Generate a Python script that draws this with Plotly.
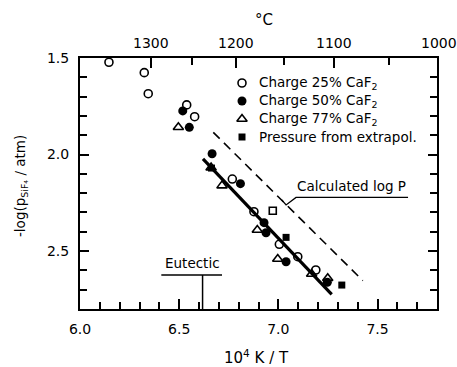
import plotly.graph_objects as go

# ---------------- data ----------------
c25_x = [6.146, 6.324, 6.344, 6.538, 6.578, 6.768, 6.877, 7.005, 7.098, 7.189]
c25_y = [1.522, 1.576, 1.685, 1.743, 1.804, 2.127, 2.296, 2.465, 2.529, 2.598]

c50_x = [6.518, 6.551, 6.666, 6.809, 6.928, 6.938, 7.039, 7.247]
c50_y = [1.774, 1.859, 1.996, 2.151, 2.353, 2.405, 2.555, 2.662]

c77_x = [6.496, 6.661, 6.716, 6.894, 6.997, 7.168, 7.249]
c77_y = [1.859, 2.068, 2.161, 2.391, 2.541, 2.619, 2.641]

extra_x = [6.663, 7.039, 7.320]
extra_y = [2.070, 2.429, 2.676]

open_sq_x = [6.972]
open_sq_y = [2.291]

fit_x = [6.620, 7.269]
fit_y = [2.022, 2.724]

calc_x = [6.672, 7.426]
calc_y = [1.885, 2.653]

eutectic_x = 6.618
celsius_ticks = [1050, 1100, 1150, 1200, 1250, 1300]
celsius_labels = [1000, 1100, 1200, 1300]

series_names = ["Charge 25% CaF<sub>2</sub>", "Charge 50% CaF<sub>2</sub>",
                "Charge 77% CaF<sub>2</sub>", "Pressure from extrapol."]

x_range = [6.0, 7.8]
y_range = [2.8, 1.5]

FONT = "DejaVu Sans"
W, H = 457, 367
L, R, T, B = 80, 20, 58, 58
PW, PH = W - L - R, H - T - B


def inv_t(c):
    return 1e4 / (c + 273.15)


def px_x(px):
    return (px - L) / PW


def px_y(py):
    return 1 - (py - T) / PH


fig = go.Figure()

mk_line = dict(color="black", width=1.6)
styles = [
    dict(symbol="circle-open", size=8, color="black", line=mk_line),
    dict(symbol="circle", size=9, color="black"),
    dict(symbol="triangle-up-open", size=9, color="black", line=mk_line),
    dict(symbol="square", size=7, color="black"),
]

fig.add_trace(go.Scatter(x=fit_x, y=fit_y, mode="lines",
                         line=dict(color="black", width=3.2), showlegend=False, hoverinfo="skip"))
fig.add_trace(go.Scatter(x=calc_x, y=calc_y, mode="lines",
                         line=dict(color="black", width=1.6, dash="9px,6px"), showlegend=False, hoverinfo="skip"))

for xs, ys, nm, st in zip([c25_x, c50_x, c77_x, extra_x], [c25_y, c50_y, c77_y, extra_y],
                          series_names, styles):
    fig.add_trace(go.Scatter(x=xs, y=ys, mode="markers", name=nm, marker=st, showlegend=False))
fig.add_trace(go.Scatter(x=open_sq_x, y=open_sq_y, mode="markers", showlegend=False,
                         marker=dict(symbol="square-open", size=7, color="black", line=mk_line)))

# top axis (°C) ticks
major_c = [c for c in celsius_ticks if c % 100 == 0]
minor_c = [c for c in celsius_ticks if c % 100 != 0]
fig.add_trace(go.Scatter(x=[inv_t(c) for c in celsius_ticks], y=[None] * len(celsius_ticks),
                         xaxis="x2", showlegend=False, hoverinfo="skip"))

# legend drawn on a pixel-unit overlay axis
leg_rows = [83, 101, 119, 137]
leg_mx, leg_tx = 242, 257
for i, st in enumerate(styles):
    fig.add_trace(go.Scatter(x=[leg_mx], y=[leg_rows[i]], mode="markers", marker=st,
                             xaxis="x3", yaxis="y3", showlegend=False, hoverinfo="skip"))

axis_common = dict(showgrid=False, zeroline=False, linecolor="black", linewidth=2,
                   tickcolor="black", tickwidth=1.5, ticks="inside",
                   tickfont=dict(family=FONT, size=14, color="black"))

fig.update_layout(
    width=W, height=H,
    margin=dict(l=L, r=R, t=T, b=B),
    paper_bgcolor="white", plot_bgcolor="white",
    font=dict(family=FONT, color="black"),
    showlegend=False,
    xaxis=dict(range=x_range, dtick=0.5, tick0=6.0, ticklen=10, mirror=True,
               minor=dict(dtick=0.1, ticks="inside", ticklen=7, tickcolor="black", tickwidth=1.5),
               ticklabelstandoff=6, tickformat=".1f", **axis_common),
    xaxis2=dict(range=x_range, overlaying="x", side="top", showticklabels=False,
                tickmode="array", tickvals=[inv_t(c) for c in major_c], ticklen=10,
                minor=dict(tickmode="array", tickvals=[inv_t(c) for c in minor_c], ticks="inside",
                           ticklen=7, tickcolor="black", tickwidth=1.5),
                **axis_common),
    yaxis=dict(range=y_range, dtick=0.5, tick0=1.5, ticklen=9, mirror="ticks",
               minor=dict(dtick=0.1, ticks="inside", ticklen=7, tickcolor="black", tickwidth=1.5),
               ticklabelstandoff=6, tickformat=".1f", **axis_common),
    xaxis3=dict(range=[L, W - R], overlaying="x", visible=False, fixedrange=True),
    yaxis3=dict(range=[H - B, T], overlaying="y", visible=False, fixedrange=True),
)

annotations = []
for c in celsius_labels:
    xp = (inv_t(c) - x_range[0]) / (x_range[1] - x_range[0])
    xp = min(xp, px_x(W - 18))
    annotations.append(dict(x=xp, y=px_y(43), xref="paper", yref="paper", text=str(c),
                            showarrow=False, xanchor="center", yanchor="middle",
                            font=dict(family=FONT, size=14)))
annotations.append(dict(x=px_x(264), y=px_y(20), xref="paper", yref="paper", xanchor="center",
                        yanchor="middle", text="°C", showarrow=False, font=dict(family=FONT, size=15)))
annotations.append(dict(x=px_x(256), y=px_y(357), xref="paper", yref="paper", xanchor="center",
                        yanchor="middle", text="10<sup>4</sup> K / T", showarrow=False,
                        font=dict(family=FONT, size=15)))
annotations.append(dict(x=px_x(21), y=px_y(186), xref="paper", yref="paper", xanchor="center",
                        yanchor="middle", text="-log(p<sub>SiF₄</sub> / atm)", textangle=-90,
                        showarrow=False, font=dict(family=FONT, size=13.5)))
annotations.append(dict(x=7.654, y=2.215, xref="x", yref="y", text="Calculated log P",
                        showarrow=False, xanchor="right", yanchor="bottom",
                        font=dict(family=FONT, size=13.5)))
annotations.append(dict(x=6.716, y=2.615, xref="x", yref="y", text="Eutectic",
                        showarrow=False, xanchor="right", yanchor="bottom",
                        font=dict(family=FONT, size=13.5)))
for i, nm in enumerate(series_names):
    annotations.append(dict(x=px_x(leg_tx), y=px_y(leg_rows[i]), xref="paper", yref="paper",
                            text=nm, showarrow=False, xanchor="left", yanchor="middle",
                            font=dict(family=FONT, size=13.5)))
fig.update_layout(annotations=annotations)

shapes = [
    dict(type="path", path="M 7.017 2.235 L 7.039 2.261 L 7.089 2.222 L 7.654 2.222",
         xref="x", yref="y", line=dict(color="black", width=1.3)),
    dict(type="line", x0=6.41, x1=6.716, y0=2.624, y1=2.624, xref="x", yref="y",
         line=dict(color="black", width=1.3)),
    dict(type="line", x0=eutectic_x, x1=eutectic_x, y0=2.624, y1=2.8, xref="x", yref="y",
         line=dict(color="black", width=1.5)),
]
fig.update_layout(shapes=shapes)

fig.write_html("out.html", config={"displayModeBar": False},
               post_script="document.body.style.margin='0px';")
